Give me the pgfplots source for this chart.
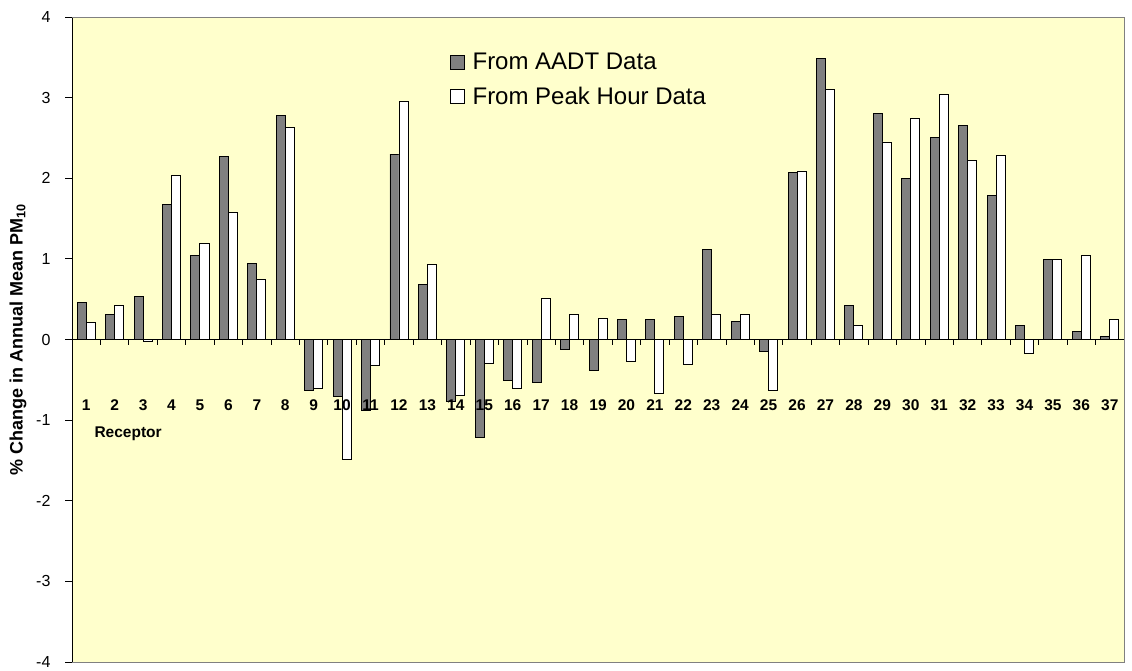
\documentclass[border=0pt]{standalone}
\usepackage{fontspec}
\setmainfont{Liberation Sans}
\usepackage{pgfplots}
\pgfplotsset{compat=1.18}
\definecolor{bg}{HTML}{FFFFCC}
\definecolor{barg}{HTML}{808080}
\begin{document}
\begin{tikzpicture}
\begin{axis}[
  set layers,
  scale only axis, width=1052pt, height=645pt,
  xmin=0.5, xmax=37.5, ymin=-4, ymax=4,
  axis x line*=middle, axis y line*=left,
  axis line style={black, line width=0.8pt},
  axis background/.style={fill=bg},
  clip=false,
  ybar=0pt, bar width=9pt,
  xtick={1,...,37}, minor xtick={0.5,1.5,...,37.5},
  major x tick style={draw=none},
  ytick={-4,...,4},
  xtick align=outside, ytick align=outside,
  major tick length=7pt, minor tick length=5pt,
  every tick/.style={black, line width=0.8pt},
  hide obscured x ticks=false, hide obscured y ticks=false,
  /pgf/number format/assume math mode=true,
  xticklabel style={font=\bfseries\fontsize{15.5}{17}\selectfont, anchor=center, yshift=-59pt},
  yticklabel style={font=\fontsize{16}{18}\selectfont, xshift=-11pt},
  ylabel={\bfseries\% Change in Annual Mean PM\textsubscript{10}},
  every axis y label/.style={at={(rel axis cs:0,0.5)}, xshift=-54pt, rotate=90, anchor=center, font=\fontsize{18}{20}\selectfont},
  xlabel={\bfseries Receptor},
  every axis x label/.style={at={(rel axis cs:0,0.5)}, anchor=west, xshift=19pt, yshift=-94pt, font=\fontsize{15.5}{17}\selectfont},
  legend style={at={(rel axis cs:0.3593,0.9473)}, anchor=north west, draw=none, fill=none,
    font=\fontsize{24}{26}\selectfont, inner sep=0pt, row sep=12pt,
    nodes={inner sep=2pt}},
  legend cell align=left,
  legend image code/.code={\draw[#1, line width=0.8pt] (0pt,-7pt) rectangle (14pt,7pt); \path[draw=none, fill=none] (14pt,0pt) -- (20pt,0pt);},
]
\addplot[on layer=axis background, fill=barg, draw=black, line width=0.9pt] coordinates {
(1,0.455) (2,0.31) (3,0.53) (4,1.675) (5,1.046) (6,2.266) (7,0.947) (8,2.775)
(9,-0.63) (10,-0.71) (11,-0.877) (12,2.30) (13,0.687) (14,-0.77) (15,-1.22)
(16,-0.51) (17,-0.53) (18,-0.12) (19,-0.38) (20,0.244) (21,0.244) (22,0.28)
(23,1.12) (24,0.228) (25,-0.153) (26,2.07) (27,3.48) (28,0.42) (29,2.80)
(30,2.0) (31,2.51) (32,2.65) (33,1.79) (34,0.17) (35,0.99) (36,0.095) (37,0.037)};
\addplot[on layer=axis background, fill=white, draw=black, line width=0.9pt] coordinates {
(1,0.21) (2,0.42) (3,-0.02) (4,2.035) (5,1.195) (6,1.58) (7,0.74) (8,2.626)
(9,-0.61) (10,-1.49) (11,-0.327) (12,2.95) (13,0.93) (14,-0.70) (15,-0.30)
(16,-0.61) (17,0.51) (18,0.306) (19,0.265) (20,-0.27) (21,-0.67) (22,-0.306)
(23,0.306) (24,0.306) (25,-0.63) (26,2.09) (27,3.10) (28,0.17) (29,2.45)
(30,2.74) (31,3.04) (32,2.225) (33,2.28) (34,-0.17) (35,0.99) (36,1.046) (37,0.244)};
\legend{From AADT Data, From Peak Hour Data}
\draw[gray, line width=0.9pt] (rel axis cs:0,0) -- (rel axis cs:1,0) -- (rel axis cs:1,1) -- (rel axis cs:0,1);
\end{axis}
\path ([shift={(-72pt,-4pt)}]current axis.south west) rectangle ([shift={(8pt,17pt)}]current axis.north east);
\end{tikzpicture}
\end{document}
